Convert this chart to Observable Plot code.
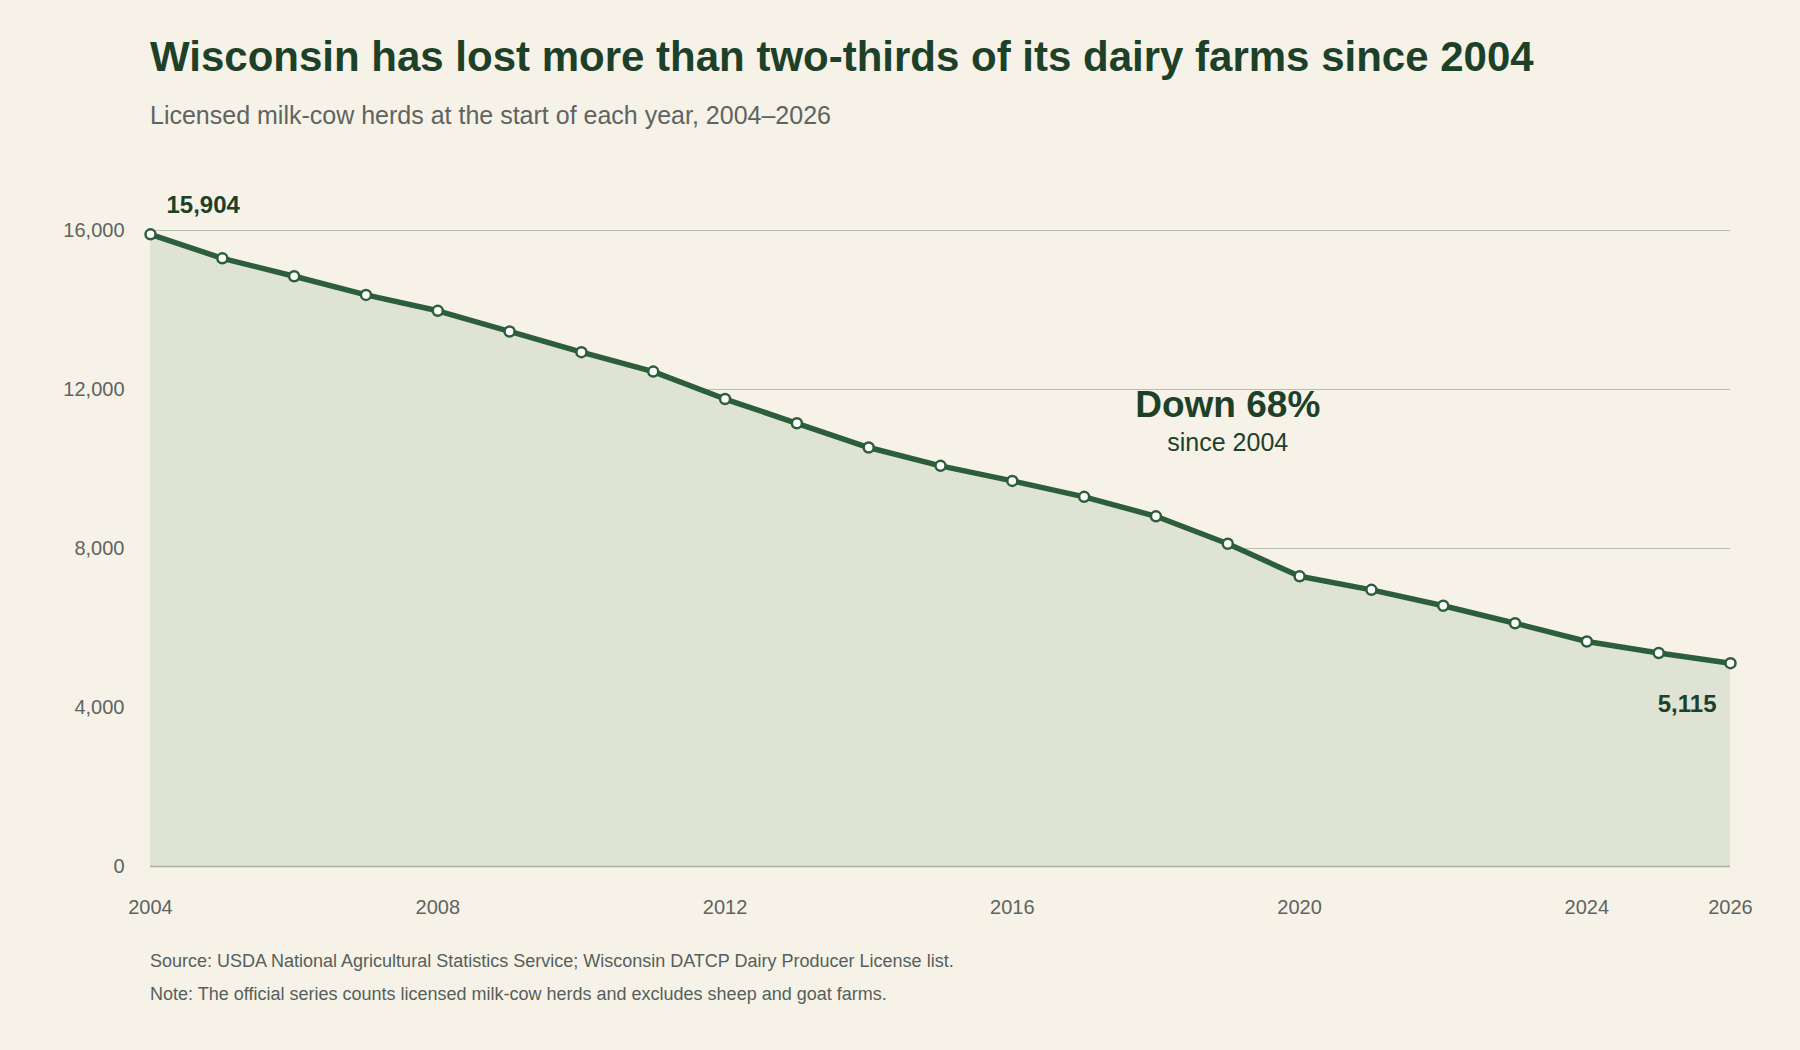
<!DOCTYPE html>
<html><head><meta charset="utf-8">
<script src="https://cdn.jsdelivr.net/npm/d3@7"></script>
<script src="https://cdn.jsdelivr.net/npm/@observablehq/plot@0.6"></script>
<style>
body{margin:0;background:#f6f2e8;font-family:"Liberation Sans",Arial,sans-serif;width:1800px;height:1050px;overflow:hidden}
#wrap{position:relative;width:1800px;height:1050px}
h1{position:absolute;left:150px;top:33px;margin:0;font-size:42px;font-weight:700;color:#1d4128}
.sub{position:absolute;left:150px;top:101px;font-size:25px;color:#5e6460}
#chart{position:absolute;left:0;top:170px}
.foot{position:absolute;left:150px;font-size:18px;color:#55605a}
</style></head><body><div id="wrap">
<h1>Wisconsin has lost more than two-thirds of its dairy farms since 2004</h1>
<div class="sub">Licensed milk-cow herds at the start of each year, 2004–2026</div>
<div id="chart"></div>
<div class="foot" style="top:951px">Source: USDA National Agricultural Statistics Service; Wisconsin DATCP Dairy Producer License list.</div>
<div class="foot" style="top:984px">Note: The official series counts licensed milk-cow herds and excludes sheep and goat farms.</div>
</div>
<script>
const years = [2004,2005,2006,2007,2008,2009,2010,2011,2012,2013,2014,2015,2016,2017,2018,2019,2020,2021,2022,2023,2024,2025,2026];
const herds = [15904,15300,14850,14380,13980,13460,12940,12450,11760,11150,10540,10080,9700,9300,8810,8120,7300,6960,6560,6120,5660,5370,5115];
const xTicks = [2004,2008,2012,2016,2020,2024,2026];
const yTicks = [0,4000,8000,12000,16000];
const data = years.map((y,i)=>({year:y,value:herds[i]}));
const green="#2c5e3c";
const chart = Plot.plot({
  width:1800,height:780,marginLeft:150,marginRight:70,marginTop:60,marginBottom:84,
  style:{background:"transparent",fontFamily:"Liberation Sans, Arial, sans-serif",fontSize:"20px",color:"#5e6460"},
  x:{domain:[2004,2026],ticks:xTicks,tickFormat:d=>String(d),tickSize:0,tickPadding:33,label:null},
  y:{domain:[0,16000],ticks:yTicks,tickFormat:d=>d3.format(",")(d),tickSize:0,tickPadding:26,label:null},
  marks:[
    Plot.gridY(yTicks,{stroke:"#b9bdb0",strokeOpacity:1,strokeWidth:1.2}),
    Plot.areaY(data,{x:"year",y:"value",fill:"#dfe3d4"}),
    Plot.ruleY([0],{stroke:"#a9ae9f",strokeWidth:1.5}),
    Plot.line(data,{x:"year",y:"value",stroke:green,strokeWidth:5.5}),
    Plot.dot(data,{x:"year",y:"value",r:5,fill:"white",stroke:green,strokeWidth:2.5}),
    Plot.text([data[0]],{x:"year",y:"value",text:d=>d3.format(",")(d.value),textAnchor:"start",dx:16,dy:-29,fontSize:24,fontWeight:"bold",fill:"#1d4128"}),
    Plot.text([data[data.length-1]],{x:"year",y:"value",text:d=>d3.format(",")(d.value),textAnchor:"end",dx:-14,dy:41,fontSize:24,fontWeight:"bold",fill:"#1d4128"}),
    Plot.text([{year:2019,value:11600}],{x:"year",y:"value",text:()=>"Down 68%",fontSize:37,fontWeight:"bold",fill:"#1d4128"}),
    Plot.text([{year:2019,value:10650}],{x:"year",y:"value",text:()=>"since 2004",fontSize:25,fill:"#1d4128"})
  ]
});
document.getElementById("chart").append(chart);
</script></body></html>
